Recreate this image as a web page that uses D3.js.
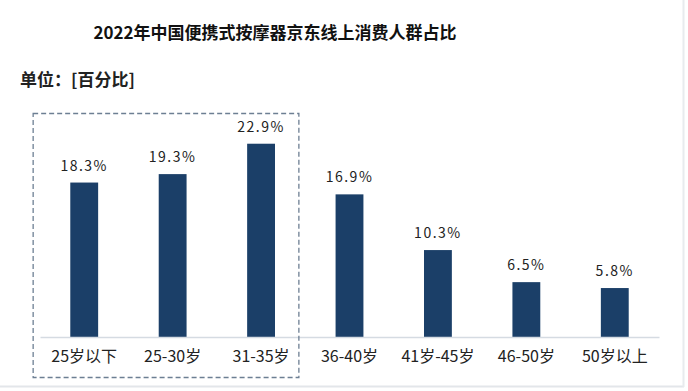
<!DOCTYPE html>
<html lang="zh">
<head>
<meta charset="UTF-8">
<title>2022年中国便携式按摩器京东线上消费人群占比</title>
<script src="https://cdnjs.cloudflare.com/ajax/libs/d3/7.8.5/d3.min.js"></script>
<style>
  html, body { margin: 0; padding: 0; background: #fff; }
  text { font-family: "Noto Sans CJK SC", "Noto Sans", sans-serif; }
</style>
</head>
<body>
<div id="wrapper"></div>
<script>
// 数据
const categories = ['25岁以下', '25-30岁', '31-35岁', '36-40岁', '41岁-45岁', '46-50岁', '50岁以上']
const values = [18.3, 19.3, 22.9, 16.9, 10.3, 6.5, 5.8]
const highlighted = ['25岁以下', '25-30岁', '31-35岁']

function drawChart() {
    const dimensions = {
        width: 688,
        height: 391,
        margin: { top: 126, right: 29, bottom: 54, left: 40 }
    }
    dimensions.boundedWidth = dimensions.width - dimensions.margin.left - dimensions.margin.right
    dimensions.boundedHeight = dimensions.height - dimensions.margin.top - dimensions.margin.bottom

    const svg = d3.select('#wrapper')
        .append('svg')
            .attr('width', dimensions.width)
            .attr('height', dimensions.height)

    // 边缘的浅灰线
    svg.append('line')
        .attr('x1', 0).attr('x2', 684)
        .attr('y1', 386.5).attr('y2', 386.5)
        .attr('stroke', '#e3e6ea').attr('stroke-width', 2)
    svg.append('line')
        .attr('x1', 683.5).attr('x2', 683.5)
        .attr('y1', 0).attr('y2', 387)
        .attr('stroke', '#e8ebee').attr('stroke-width', 2)

    // 标题
    svg.append('text')
        .attr('x', 275)
        .attr('y', 39)
        .attr('text-anchor', 'middle')
        .style('font-size', '17px')
        .style('font-weight', 'bold')
        .attr('fill', '#111')
        .text('2022年中国便携式按摩器京东线上消费人群占比')

    svg.append('text')
        .attr('x', 20)
        .attr('y', 86)
        .style('font-size', '17px')
        .style('font-weight', 'bold')
        .attr('fill', '#222')
        .text('单位：[百分比]')

    const bounds = svg.append('g')
        .attr('transform', `translate(${dimensions.margin.left},${dimensions.margin.top})`)

    // 比例尺
    const xScale = d3.scaleBand()
        .domain(categories)
        .range([0, dimensions.boundedWidth])
        .paddingInner(0.685)
        .paddingOuter(0.3425)

    const yScale = d3.scaleLinear()
        .domain([0, 25])
        .range([dimensions.boundedHeight, 0])

    const data = categories.map((c, i) => ({ category: c, value: values[i] }))

    // 高亮虚线框
    const hlStart = xScale(highlighted[0])
    const hlEnd = xScale(highlighted[highlighted.length - 1]) + xScale.bandwidth()
    const step = xScale.step()
    svg.append('rect')
        .attr('x', dimensions.margin.left + hlStart - step * 0.42)
        .attr('y', 113.5)
        .attr('width', (hlEnd - hlStart) + step * 0.69)
        .attr('height', 264)
        .attr('fill', 'none')
        .attr('stroke', '#6d7f93')
        .attr('stroke-width', 1.3)
        .attr('stroke-dasharray', '5,3')

    // 柱子
    bounds.selectAll('rect.bar')
        .data(data)
        .join('rect')
            .attr('class', 'bar')
            .attr('x', d => xScale(d.category))
            .attr('y', d => yScale(d.value))
            .attr('width', xScale.bandwidth())
            .attr('height', d => yScale(0) - yScale(d.value))
            .attr('fill', '#1b3f68')

    // 数值标签
    bounds.selectAll('text.value')
        .data(data)
        .join('text')
            .attr('class', 'value')
            .attr('x', d => xScale(d.category) + xScale.bandwidth() / 2)
            .attr('y', d => yScale(d.value) - 12)
            .attr('text-anchor', 'middle')
            .style('font-size', '14px')
            .style('letter-spacing', '1.5px')
            .attr('fill', '#222')
            .text(d => d.value.toFixed(1) + '%')

    // x 轴
    const xAxis = bounds.append('g')
        .attr('transform', `translate(0,${dimensions.boundedHeight})`)
        .call(d3.axisBottom(xScale).tickSize(0).tickPadding(14))
    xAxis.select('.domain')
        .attr('stroke', '#d5dbe2')
        .attr('stroke-width', 1.5)
    xAxis.selectAll('text')
        .style('font-size', '16px')
        .style('font-family', '"Noto Sans CJK SC", sans-serif')
        .attr('fill', '#222')
}

drawChart()
</script>
</body>
</html>
